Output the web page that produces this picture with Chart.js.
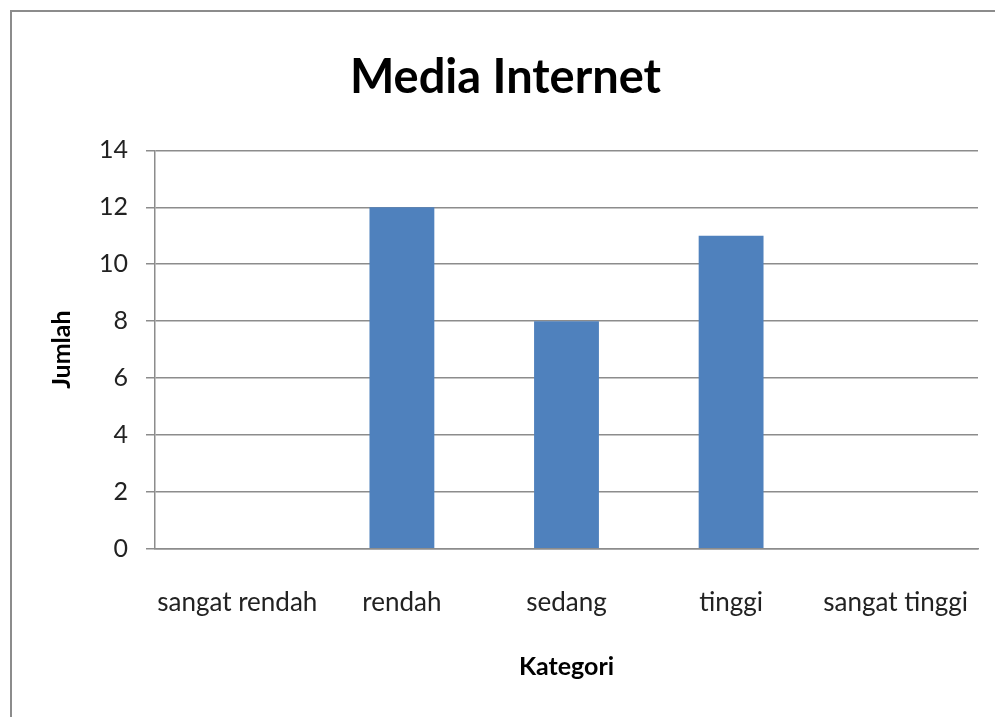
<!DOCTYPE html>
<html>
<head>
<meta charset="utf-8">
<script src="https://cdn.jsdelivr.net/npm/chart.js@4/dist/chart.umd.min.js"></script>
<style>
  body { margin: 0; background: #fff; }
  #wrap { position: relative; width: 995px; height: 717px; overflow: hidden; }
  #frame { position: absolute; left: 10px; top: 10px; width: 1000px; height: 720px;
           border-top: 2px solid #8c8c8c; border-left: 2px solid #8c8c8c; }
  canvas { position: absolute; left: 0; top: 0; }
</style>
</head>
<body>
<div id="wrap">
  <div id="frame"></div>
  <canvas id="myChart" width="995" height="717"></canvas>
</div>
<script>
const categories = ['sangat rendah', 'rendah', 'sedang', 'tinggi', 'sangat tinggi'];
const jumlah = [0, 12, 8, 11, 0];
const yTicks = [0, 2, 4, 6, 8, 10, 12, 14];

const FONT = 'Lato, "Open Sans", sans-serif';
const ctx = document.getElementById('myChart').getContext('2d');
const myChart = new Chart(ctx, {
    type: 'bar',
    data: {
        labels: categories,
        datasets: [{
            label: 'Jumlah',
            data: jumlah,
            backgroundColor: '#4f81bd',
            barPercentage: 1,
            categoryPercentage: 0.394
        }]
    },
    options: {
        responsive: false,
        animation: false,
        layout: { padding: { left: 33, top: 50, right: 17, bottom: 35 } },
        plugins: {
            legend: { display: false },
            tooltip: { enabled: false },
            title: {
                display: true,
                text: 'Media Internet',
                color: '#000',
                font: { family: FONT, size: 47, weight: 'bold' },
                padding: { top: 0, bottom: 44 }
            }
        },
        scales: {
            x: {
                // keep the plot running to the right edge, labels fit anyway
                afterFit: axis => { axis.paddingLeft = 0; axis.paddingRight = 0; },
                grid: { display: false },
                border: { display: true, color: '#8c8c8c', width: 1.5 },
                ticks: {
                    color: '#222',
                    font: { family: FONT, size: 26 },
                    padding: 30,
                    maxRotation: 0
                },
                title: {
                    display: true,
                    text: 'Kategori',
                    color: '#000',
                    font: { family: FONT, size: 25, weight: 'bold' },
                    padding: { top: 4, bottom: 0 }
                }
            },
            y: {
                min: 0,
                max: 14,
                afterBuildTicks: axis => { axis.ticks = yTicks.map(v => ({ value: v })); },
                grid: { color: '#8c8c8c', lineWidth: 1.5, tickLength: 9 },
                border: { display: true, color: '#8c8c8c', width: 1.5 },
                ticks: {
                    color: '#222',
                    font: { family: FONT, size: 25 },
                    padding: 18
                },
                title: {
                    display: true,
                    text: 'Jumlah',
                    color: '#000',
                    font: { family: FONT, size: 25, weight: 'bold' },
                    padding: { top: 14, bottom: 4 }
                }
            }
        }
    }
});
</script>
</body>
</html>
